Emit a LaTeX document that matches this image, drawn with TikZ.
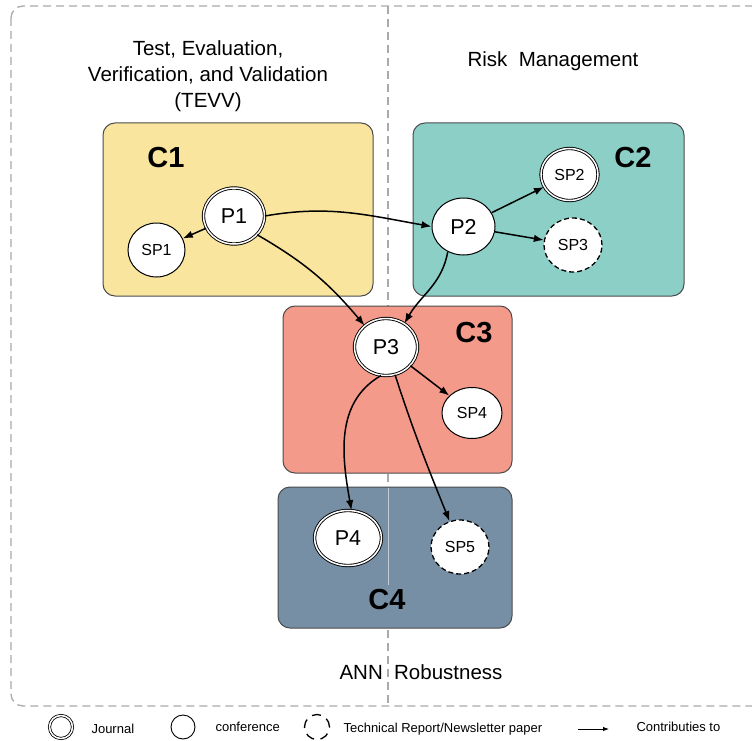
\documentclass[tikz,border=0pt]{standalone}
\usepackage{fontspec}
\setmainfont{Liberation Sans}
\usetikzlibrary{shapes.geometric,arrows.meta}
\definecolor{cyellow}{HTML}{F9E59D}
\definecolor{cteal}{HTML}{8BCFC6}
\definecolor{csalmon}{HTML}{F49A8A}
\definecolor{cslate}{HTML}{768FA5}
\definecolor{dgray}{HTML}{AAAAAA}
\begin{document}
\begin{tikzpicture}[x=1pt,y=1pt,
 area/.style={draw=black!70, line width=1pt, rounded corners=12pt},
 clabel/.style={font=\fontsize{29}{30}\selectfont\bfseries},
 pub/.style={ellipse, draw=black, line width=1pt, fill=white, inner sep=0pt},
 journal/.style={pub, line width=0.9pt, double=white, double distance=1.5pt},
 conf/.style={pub},
 report/.style={pub, dash pattern=on 5pt off 3pt, line width=1.3pt},
 plabel/.style={font=\fontsize{21.5}{24}\selectfont},
 splabel/.style={font=\fontsize{16}{18}\selectfont},
 contrib/.style={-{Latex[length=10pt,width=7.5pt]}, line width=1.5pt},
 head/.style={font=\fontsize{20.5}{26}\selectfont, align=center},
 legtext/.style={font=\fontsize{13}{15}\selectfont, anchor=west},
 divider/.style={draw=dgray, line width=1.3pt, dash pattern=on 8pt off 5pt}
]
\useasboundingbox[fill=white] (0,0) rectangle (752,-741);

% outer frame and divider
\draw[divider, rounded corners=12pt] (11,-6) rectangle (775,-706);
\draw[divider] (388,-6) -- (388,-706);

% areas
\draw[area, fill=cyellow] (103,-123) rectangle (373,-296);
\draw[area, fill=cteal] (413,-123) rectangle (684,-296);
\draw[area, fill=csalmon] (283,-306) rectangle (512,-473);
\draw[area, fill=cslate] (278,-487) rectangle (512,-628);
\draw[white!55!cslate, line width=1pt] (388,-487.5) -- (388,-585);

\node[clabel] (c1) at (166,-158) {C1};
\node[clabel] (c2) at (633,-158) {C2};
\node[clabel] (c3) at (474,-333) {C3};
\node[clabel] (c4) at (387,-600) {C4};

% headers
\node[head] (tevv) at (208,-76) {Test, Evaluation,\\Verification, and Validation\\(TEVV)};
\node[head] (risk) at (553,-61) {Risk\ \ Management};
\node[head] (ann) at (421,-672) {ANN\ \ Robustness};

% publications
\node[journal, minimum width=61pt, minimum height=56pt, plabel] (P1) at (234,-216) {P1};
\node[conf, minimum width=57pt, minimum height=54pt, splabel] (SP1) at (156.5,-250) {SP1};
\node[conf, minimum width=63pt, minimum height=57pt, plabel] (P2) at (463.5,-226.5) {P2};
\node[journal, minimum width=57pt, minimum height=52pt, splabel] (SP2) at (569.5,-174.5) {SP2};
\node[report, minimum width=58pt, minimum height=54pt, splabel] (SP3) at (573,-245) {SP3};
\node[journal, minimum width=63pt, minimum height=57pt, plabel] (P3) at (386,-347) {P3};
\node[conf, minimum width=60pt, minimum height=51pt, splabel] (SP4) at (472,-413) {SP4};
\node[journal, minimum width=67pt, minimum height=55pt, plabel] (P4) at (348,-538) {P4};
\node[report, minimum width=58pt, minimum height=54pt, splabel] (SP5) at (460,-547) {SP5};

% contributions
\draw[contrib] (P1) -- (SP1);
\draw[contrib] (P1.east) to[out=10,in=170] (P2.west);
\draw[contrib] (P1.-39) to[out=-30,in=130] (P3.135);
\draw[contrib] (P2.-122) to[out=-100,in=60] (P3.52);
\draw[contrib] (P2) -- (SP2);
\draw[contrib] (P2) -- (SP3);
\draw[contrib] (P3) -- (SP4);
\draw[contrib] (P3.-100) to[out=-150,in=100] (P4.83);
\draw[contrib] (P3) to[out=-72,in=112] (SP5);

% legend
\node[journal, fill=none, line width=0.8pt, minimum width=23pt, minimum height=23pt] (lj) at (61,-727) {};
\node[legtext] (ljt) at (88,-729) {Journal};
\node[conf, fill=none, line width=0.9pt, minimum width=24pt, minimum height=24pt] (lc) at (183,-727) {};
\node[legtext] (lct) at (212,-727) {conference};
\node[report, fill=none, dash pattern=on 9pt off 6.5pt, line width=1.3pt, minimum width=25pt, minimum height=25pt] (lr) at (317,-727) {};
\node[legtext] (lrt) at (340,-729) {Technical Report/Newsletter paper};
\coordinate (la1) at (578,-729);
\coordinate (la2) at (609,-729);
\draw[-{Latex[length=6pt,width=4.5pt]}, line width=1pt] (la1) -- (la2);
\node[legtext] (lat) at (633,-727) {Contributies to};
\end{tikzpicture}
\end{document}
